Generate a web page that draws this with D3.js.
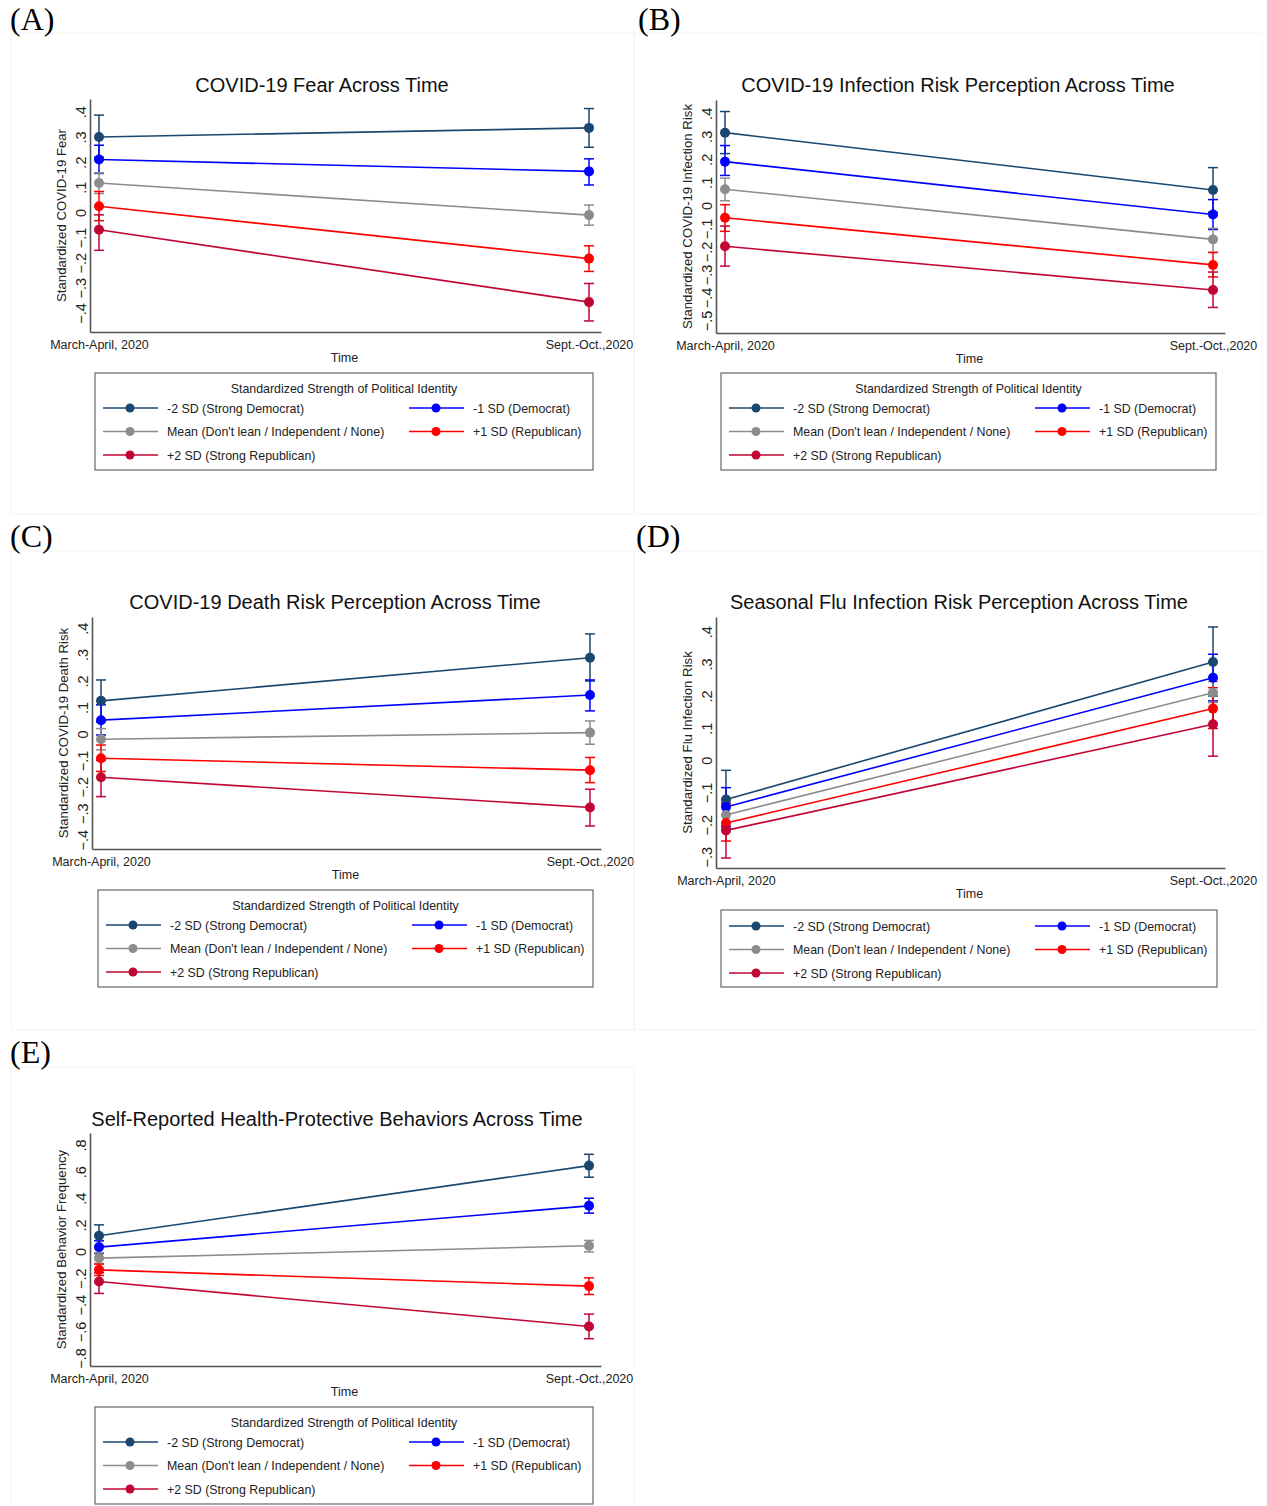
<!DOCTYPE html>
<html>
<head>
<meta charset="utf-8">
<script src="https://cdn.jsdelivr.net/npm/d3@7"></script>
<style>
  html, body { margin: 0; padding: 0; background: #fff; }
  svg { display: block; }
  text { font-family: "Liberation Sans", Arial, sans-serif; fill: #222; }
</style>
</head>
<body>
<svg id="chart" width="1267" height="1506"></svg>
<script>
// ---------------- DATA ----------------
const timeLabels = ["March-April, 2020", "Sept.-Oct.,2020"];
const groupLabels = [
  "-2 SD (Strong Democrat)",
  "-1 SD (Democrat)",
  "Mean (Don't lean / Independent / None)",
  "+1 SD (Republican)",
  "+2 SD (Strong Republican)"
];
const groupColors = ["#1a476f", "#0000ff", "#8c8c8c", "#ff0000", "#c10534"];
const legendTitle = "Standardized Strength of Political Identity";

const panelLetters = ["(A)", "(B)", "(C)", "(D)", "(E)"];
const panelTitles = [
  "COVID-19 Fear Across Time",
  "COVID-19 Infection Risk Perception Across Time",
  "COVID-19 Death Risk Perception Across Time",
  "Seasonal Flu Infection Risk Perception Across Time",
  "Self-Reported Health-Protective Behaviors Across Time"
];
const yTitles = [
  "Standardized COVID-19 Fear",
  "Standardized COVID-19 Infection Risk",
  "Standardized COVID-19 Death Risk",
  "Standardized Flu Infection Risk",
  "Standardized Behavior Frequency"
];

// tick values per panel
const ticksA = [-0.4, -0.3, -0.2, -0.1, 0, 0.1, 0.2, 0.3, 0.4];
const ticksB = [-0.5, -0.4, -0.3, -0.2, -0.1, 0, 0.1, 0.2, 0.3, 0.4];
const ticksC = [-0.4, -0.3, -0.2, -0.1, 0, 0.1, 0.2, 0.3, 0.4];
const ticksD = [-0.3, -0.2, -0.1, 0, 0.1, 0.2, 0.3, 0.4];
const ticksE = [-0.8, -0.6, -0.4, -0.2, 0, 0.2, 0.4, 0.6, 0.8];

// (A) COVID-19 fear: [March-April, Sept-Oct] per group
const fearMean = [[0.300, 0.336], [0.210, 0.163], [0.117, -0.011], [0.024, -0.184], [-0.069, -0.357]];
const fearLo   = [[0.220, 0.259], [0.155, 0.109], [0.075, -0.051], [-0.033, -0.235], [-0.151, -0.432]];
const fearHi   = [[0.387, 0.413], [0.267, 0.213], [0.157, 0.029], [0.083, -0.133], [-0.010, -0.283]];

// (B) COVID-19 infection risk
const infMean = [[0.316, 0.067], [0.190, -0.040], [0.070, -0.148], [-0.054, -0.259], [-0.178, -0.368]];
const infLo   = [[0.225, -0.030], [0.130, -0.105], [0.020, -0.204], [-0.113, -0.311], [-0.264, -0.444]];
const infHi   = [[0.408, 0.164], [0.260, 0.025], [0.118, -0.100], [0.003, -0.205], [-0.090, -0.290]];

// (C) COVID-19 death risk
const deathMean = [[0.125, 0.288], [0.052, 0.147], [-0.020, 0.005], [-0.092, -0.137], [-0.164, -0.278]];
const deathLo   = [[0.045, 0.200], [-0.004, 0.087], [-0.060, -0.039], [-0.142, -0.184], [-0.237, -0.348]];
const deathHi   = [[0.204, 0.378], [0.110, 0.204], [0.020, 0.049], [-0.042, -0.089], [-0.100, -0.209]];

// (D) Seasonal flu infection risk
const fluMean = [[-0.122, 0.306], [-0.145, 0.257], [-0.170, 0.210], [-0.195, 0.161], [-0.218, 0.112]];
const fluLo   = [[-0.210, 0.200], [-0.205, 0.185], [-0.210, 0.180], [-0.251, 0.099], [-0.304, 0.013]];
const fluHi   = [[-0.031, 0.415], [-0.085, 0.330], [-0.130, 0.245], [-0.140, 0.226], [-0.135, 0.210]];

// (E) Health-protective behaviors
const behMean = [[0.118, 0.645], [0.033, 0.343], [-0.050, 0.043], [-0.138, -0.260], [-0.225, -0.563]];
const behLo   = [[0.040, 0.558], [-0.015, 0.288], [-0.090, -0.003], [-0.180, -0.323], [-0.315, -0.655]];
const behHi   = [[0.200, 0.730], [0.080, 0.400], [-0.010, 0.083], [-0.095, -0.198], [-0.160, -0.470]];

// ---------------- LAYOUT ----------------
const layouts = [
  { ax: 90,  x1: 99,  x2: 589,  xEnd: 601,  top: 99,   bottom: 332, yMin: -0.476, yMax: 0.451,
    titleX: 322, titleY: 92, letterX: 10, letterY: 30,
    legend: { x: 95, y: 373, w: 498, h: 97, title: true },
    frame: { x: 11, y: 33, w: 623, h: 481 } },
  { ax: 716, x1: 725, x2: 1213, xEnd: 1225, top: 100,  bottom: 333, yMin: -0.555, yMax: 0.458,
    titleX: 958, titleY: 92, letterX: 638, letterY: 30,
    legend: { x: 721, y: 373, w: 495, h: 97, title: true },
    frame: { x: 634, y: 33, w: 628, h: 481 } },
  { ax: 92,  x1: 101, x2: 590,  xEnd: 601,  top: 617,  bottom: 849, yMin: -0.435, yMax: 0.442,
    titleX: 335, titleY: 609, letterX: 10, letterY: 547,
    legend: { x: 98, y: 890, w: 495, h: 97, title: true },
    frame: { x: 11, y: 551, w: 623, h: 479 } },
  { ax: 716, x1: 726, x2: 1213, xEnd: 1225, top: 617,  bottom: 868, yMin: -0.335, yMax: 0.446,
    titleX: 959, titleY: 609, letterX: 636, letterY: 547,
    legend: { x: 721, y: 910, w: 496, h: 77, title: false },
    frame: { x: 634, y: 551, w: 628, h: 479 } },
  { ax: 90,  x1: 99,  x2: 589,  xEnd: 601,  top: 1133, bottom: 1366, yMin: -0.86, yMax: 0.89,
    titleX: 337, titleY: 1126, letterX: 10, letterY: 1063,
    legend: { x: 95, y: 1407, w: 498, h: 97, title: true },
    frame: { x: 11, y: 1067, w: 623, h: 450 } }
];

const panelData = [
  { mean: fearMean,  lo: fearLo,  hi: fearHi,  ticks: ticksA },
  { mean: infMean,   lo: infLo,   hi: infHi,   ticks: ticksB },
  { mean: deathMean, lo: deathLo, hi: deathHi, ticks: ticksC },
  { mean: fluMean,   lo: fluLo,   hi: fluHi,   ticks: ticksD },
  { mean: behMean,   lo: behLo,   hi: behHi,   ticks: ticksE }
];

const fmt = d => {
  if (Math.abs(d) < 1e-9) return "0";
  return d3.format(".1f")(d).replace("0.", ".");
};

const svg = d3.select("#chart");
svg.append("rect").attr("width", 1267).attr("height", 1506).attr("fill", "#fff");

const axisColor = "#555";
const smallFont = "12.5px";

panelData.forEach((pd, p) => {
  const L = layouts[p];
  const g = svg.append("g");

  // faint frame of each sub-figure
  g.append("rect")
    .attr("x", L.frame.x).attr("y", L.frame.y)
    .attr("width", L.frame.w).attr("height", L.frame.h)
    .attr("fill", "none").attr("stroke", "#f4f4f4").attr("stroke-width", 1);

  // panel letter
  g.append("text")
    .attr("x", L.letterX).attr("y", L.letterY)
    .style("font-family", "'Liberation Serif', 'Times New Roman', serif")
    .style("font-size", "32px").style("fill", "#000")
    .text(panelLetters[p]);

  // title
  g.append("text")
    .attr("x", L.titleX).attr("y", L.titleY)
    .attr("text-anchor", "middle")
    .style("font-size", "20px").style("fill", "#111")
    .text(panelTitles[p]);

  // scales
  const x = d3.scaleLinear().domain([0, 1]).range([L.x1, L.x2]);
  const y = d3.scaleLinear().domain([L.yMin, L.yMax]).range([L.bottom, L.top]);

  // y axis
  const yAxis = g.append("g")
    .attr("transform", `translate(${L.ax},0)`)
    .call(d3.axisLeft(y).tickValues(pd.ticks).tickFormat(fmt).tickSizeInner(0).tickSizeOuter(0));
  yAxis.select(".domain").attr("stroke", axisColor).attr("stroke-width", 1.6);
  yAxis.selectAll(".tick line").remove();
  yAxis.selectAll(".tick text")
    .attr("x", null).attr("dy", null)
    .attr("text-anchor", "middle")
    .attr("transform", "translate(-4,0) rotate(-90)")
    .style("font-size", "14.5px")
    .style("font-family", "'Liberation Sans', Arial, sans-serif")
    .attr("fill", "#222");

  // x axis (line spans the full plot width)
  const xAxisScale = d3.scaleLinear()
    .domain([x.invert(L.ax), x.invert(L.xEnd)])
    .range([L.ax, L.xEnd]);
  const xAxis = g.append("g")
    .attr("transform", `translate(0,${L.bottom})`)
    .call(d3.axisBottom(xAxisScale).tickValues([0, 1]).tickFormat(i => timeLabels[i]).tickSizeInner(0).tickSizeOuter(0).tickPadding(8));
  xAxis.select(".domain").attr("stroke", axisColor).attr("stroke-width", 1.6);
  xAxis.selectAll(".tick line").remove();
  xAxis.selectAll(".tick text")
    .style("font-size", smallFont)
    .style("font-family", "'Liberation Sans', Arial, sans-serif")
    .attr("fill", "#222");

  // axis titles
  g.append("text")
    .attr("x", (L.ax + L.xEnd) / 2 - 1).attr("y", L.bottom + 30)
    .attr("text-anchor", "middle").style("font-size", smallFont)
    .text("Time");
  g.append("text")
    .attr("transform", `translate(${L.ax - 24},${(L.top + L.bottom) / 2}) rotate(-90)`)
    .attr("text-anchor", "middle").style("font-size", "13.2px")
    .text(yTitles[p]);

  // error bars
  const capW = 5;
  pd.mean.forEach((series, s) => {
    const col = groupColors[s];
    const eg = g.append("g").attr("stroke", col).attr("stroke-width", 1.5).attr("fill", "none");
    series.forEach((v, t) => {
      const lo = pd.lo[s][t], hi = pd.hi[s][t];
      eg.append("line").attr("x1", x(t)).attr("x2", x(t)).attr("y1", y(lo)).attr("y2", y(hi));
      eg.append("line").attr("x1", x(t) - capW).attr("x2", x(t) + capW).attr("y1", y(lo)).attr("y2", y(lo));
      eg.append("line").attr("x1", x(t) - capW).attr("x2", x(t) + capW).attr("y1", y(hi)).attr("y2", y(hi));
    });
  });

  // lines and markers
  const line = d3.line().x((d, i) => x(i)).y(d => y(d));
  pd.mean.forEach((series, s) => {
    const col = groupColors[s];
    g.append("path").datum(series)
      .attr("d", line).attr("fill", "none")
      .attr("stroke", col).attr("stroke-width", 1.6);
    g.selectAll(null).data(series).enter().append("circle")
      .attr("cx", (d, i) => x(i)).attr("cy", d => y(d))
      .attr("r", 5).attr("fill", col);
  });

  // legend
  const lg = L.legend;
  const leg = g.append("g").attr("transform", `translate(${lg.x},${lg.y})`);
  leg.append("rect").attr("width", lg.w).attr("height", lg.h)
    .attr("fill", "#fff").attr("stroke", "#666").attr("stroke-width", 1.2);
  let rowStart = 16;
  if (lg.title) {
    leg.append("text").attr("x", lg.w / 2).attr("y", 20)
      .attr("text-anchor", "middle").style("font-size", "12.4px")
      .text(legendTitle);
    rowStart = 35;
  }
  const colOff = [0, 306];
  groupLabels.forEach((lab, i) => {
    const row = Math.floor(i / 2), c = i % 2;
    const cy = rowStart + row * 23.5;
    const ox = colOff[c];
    const item = leg.append("g").attr("transform", `translate(${ox},${cy})`);
    item.append("line").attr("x1", 8).attr("x2", 63).attr("y1", 0).attr("y2", 0)
      .attr("stroke", groupColors[i]).attr("stroke-width", 1.6);
    item.append("circle").attr("cx", 35).attr("cy", 0).attr("r", 4.5).attr("fill", groupColors[i]);
    item.append("text").attr("x", 72).attr("y", 4.5)
      .style("font-size", "12.4px").text(lab);
  });
});
</script>
</body>
</html>
